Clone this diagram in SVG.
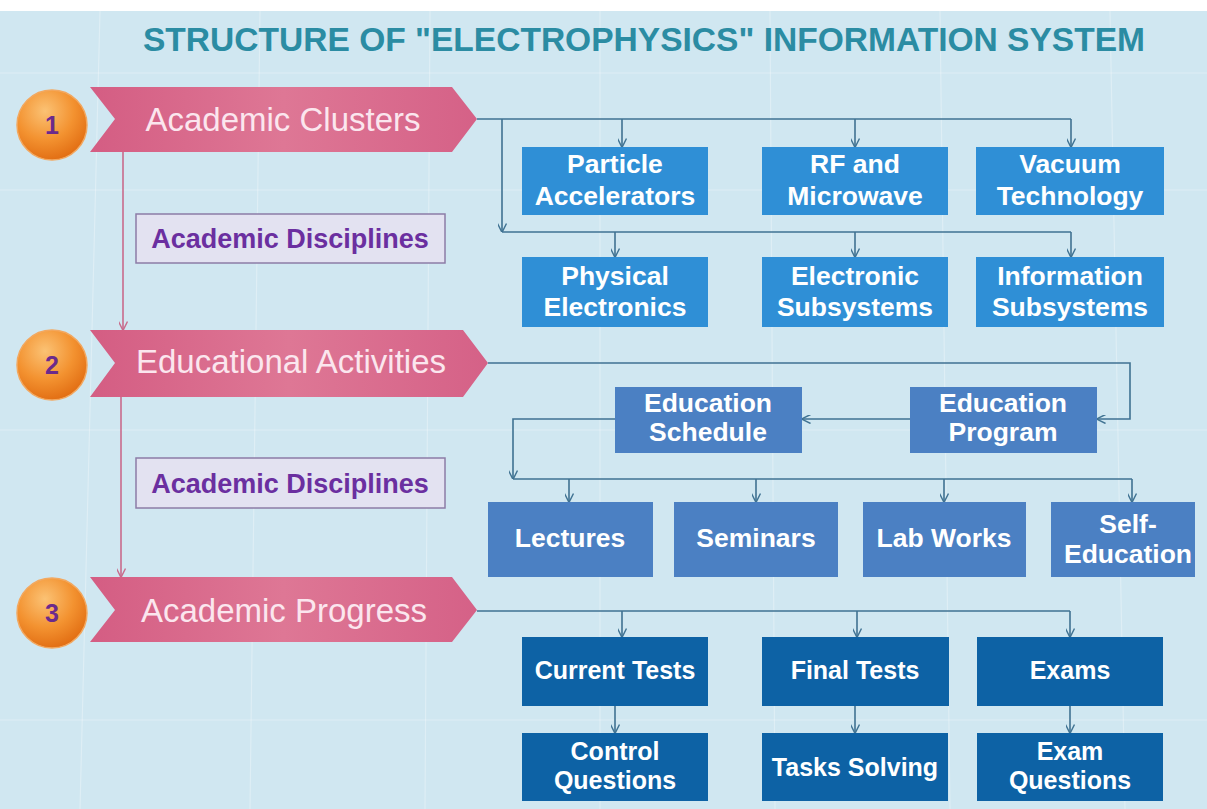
<svg xmlns="http://www.w3.org/2000/svg" width="1207" height="809" viewBox="0 0 1207 809">
<defs>
<linearGradient id="rib" x1="0" y1="0" x2="1" y2="0">
<stop offset="0" stop-color="#d45d83"/>
<stop offset="0.5" stop-color="#de7795"/>
<stop offset="1" stop-color="#d56187"/>
</linearGradient>
<radialGradient id="orb" cx="0.4" cy="0.3" r="0.75">
<stop offset="0" stop-color="#fbc274"/>
<stop offset="0.55" stop-color="#f39230"/>
<stop offset="1" stop-color="#e06a10"/>
</radialGradient>
<marker id="ah" viewBox="0 0 10 10" refX="9.5" refY="5" markerWidth="9" markerHeight="9" markerUnits="userSpaceOnUse" orient="auto">
<path d="M0,0 L10,5 L0,10" fill="none" stroke="#3f7292" stroke-width="1.6"/>
</marker>
<marker id="ahp" viewBox="0 0 10 10" refX="9.5" refY="5" markerWidth="9" markerHeight="9" markerUnits="userSpaceOnUse" orient="auto">
<path d="M0,0 L10,5 L0,10" fill="none" stroke="#c86b8c" stroke-width="1.6"/>
</marker>
<style>
.bg{fill:#d0e7f1}
.grid{stroke:#ffffff;stroke-opacity:0.3;stroke-width:1.2;fill:none}
.title{font-family:"Liberation Sans",Arial,sans-serif;font-weight:bold;font-size:33px;fill:#2b8ca3}
.rib{fill:url(#rib)}
.ribt{font-family:"Liberation Sans",Arial,sans-serif;font-size:33px;fill:#fbe6ee;text-anchor:middle}
.orb{fill:url(#orb);stroke:#f2a860;stroke-width:1.5}
.num{font-family:"Liberation Sans",Arial,sans-serif;font-weight:bold;font-size:25px;fill:#6b2a8c;text-anchor:middle}
.disc{fill:#e3e2f1;stroke:#8c7ca6;stroke-width:1.5}
.disct{font-family:"Liberation Sans",Arial,sans-serif;font-weight:bold;font-size:27px;fill:#6b2fa0;text-anchor:middle}
.b1{fill:#2f8fd6}
.b2{fill:#4b80c3}
.b3{fill:#0d62a5}
.bt{font-family:"Liberation Sans",Arial,sans-serif;font-weight:bold;font-size:26.5px;fill:#ffffff;text-anchor:middle}
.bt3{font-family:"Liberation Sans",Arial,sans-serif;font-weight:bold;font-size:25px;fill:#ffffff;text-anchor:middle}
.con{stroke:#3f7292;stroke-width:1.6;fill:none}
.conp{stroke:#c86b8c;stroke-width:1.6;fill:none}
</style>
</defs>

<rect x="0" y="0" width="1207" height="809" fill="#ffffff"/>
<rect class="bg" x="0" y="11" width="1207" height="798"/>
<g id="grid">
<path class="grid" d="M0,73 H1207 M0,190 H1207 M0,430 H1207 M0,720 H1207"/>
<path class="grid" d="M100,11 L80,809 M260,11 L250,809 M430,11 L425,809 M600,11 L600,809 M770,11 L775,809 M940,11 L950,809 M1110,11 L1125,809"/>
</g>

<text id="title" class="title" x="143" y="51" textLength="1002" lengthAdjust="spacingAndGlyphs">STRUCTURE OF "ELECTROPHYSICS" INFORMATION SYSTEM</text>

<g id="connectors">
<path class="conp" d="M123,152 V330" marker-end="url(#ahp)"/>
<path class="conp" d="M121,397 V577" marker-end="url(#ahp)"/>

<path class="con" d="M477,119 H1071"/>
<path class="con" d="M622,119 V147" marker-end="url(#ah)"/>
<path class="con" d="M855,119 V147" marker-end="url(#ah)"/>
<path class="con" d="M1071,119 V147" marker-end="url(#ah)"/>
<path class="con" d="M502,119 V232" marker-end="url(#ah)"/>
<path class="con" d="M502,232 H1071"/>
<path class="con" d="M615,232 V257" marker-end="url(#ah)"/>
<path class="con" d="M855,232 V257" marker-end="url(#ah)"/>
<path class="con" d="M1071,232 V257" marker-end="url(#ah)"/>

<path class="con" d="M488,363 H1130 V419 H1097" marker-end="url(#ah)"/>
<path class="con" d="M910,419 H802" marker-end="url(#ah)"/>
<path class="con" d="M615,419 H513 V479" marker-end="url(#ah)"/>
<path class="con" d="M513,479 H1132"/>
<path class="con" d="M569,479 V502" marker-end="url(#ah)"/>
<path class="con" d="M756,479 V502" marker-end="url(#ah)"/>
<path class="con" d="M944,479 V502" marker-end="url(#ah)"/>
<path class="con" d="M1132,479 V502" marker-end="url(#ah)"/>

<path class="con" d="M477,611 H1070"/>
<path class="con" d="M622,611 V637" marker-end="url(#ah)"/>
<path class="con" d="M857,611 V637" marker-end="url(#ah)"/>
<path class="con" d="M1070,611 V637" marker-end="url(#ah)"/>
<path class="con" d="M615,706 V733" marker-end="url(#ah)"/>
<path class="con" d="M855,706 V733" marker-end="url(#ah)"/>
<path class="con" d="M1070,706 V733" marker-end="url(#ah)"/>
</g>

<g id="step1">
<path class="rib" d="M90,87 H452 L477,119 L452,152 H90 L115,119 Z"/>
<text class="ribt" x="283" y="131">Academic Clusters</text>
<circle class="orb" cx="52" cy="125" r="35"/>
<text class="num" x="52" y="134">1</text>
</g>
<g id="step2">
<path class="rib" d="M90,330 H463 L488,363 L463,397 H90 L115,363 Z"/>
<text class="ribt" x="291" y="373">Educational Activities</text>
<circle class="orb" cx="52" cy="365" r="35"/>
<text class="num" x="52" y="374">2</text>
</g>
<g id="step3">
<path class="rib" d="M90,577 H452 L477,610 L452,642 H90 L115,610 Z"/>
<text class="ribt" x="284" y="622">Academic Progress</text>
<circle class="orb" cx="52" cy="613" r="35"/>
<text class="num" x="52" y="622">3</text>
</g>

<g id="disc1">
<rect class="disc" x="136" y="214" width="309" height="49"/>
<text class="disct" x="290" y="248">Academic Disciplines</text>
</g>
<g id="disc2">
<rect class="disc" x="136" y="458" width="309" height="50"/>
<text class="disct" x="290" y="493">Academic Disciplines</text>
</g>

<g id="particle"><rect class="b1" x="522" y="147" width="186" height="68"/><text class="bt" x="615" y="173">Particle</text><text class="bt" x="615" y="205">Accelerators</text></g>
<g id="rf"><rect class="b1" x="762" y="147" width="186" height="68"/><text class="bt" x="855" y="173">RF and</text><text class="bt" x="855" y="205">Microwave</text></g>
<g id="vacuum"><rect class="b1" x="976" y="147" width="188" height="68"/><text class="bt" x="1070" y="173">Vacuum</text><text class="bt" x="1070" y="205">Technology</text></g>
<g id="physical"><rect class="b1" x="522" y="257" width="186" height="70"/><text class="bt" x="615" y="285">Physical</text><text class="bt" x="615" y="316">Electronics</text></g>
<g id="electronic"><rect class="b1" x="762" y="257" width="186" height="70"/><text class="bt" x="855" y="285">Electronic</text><text class="bt" x="855" y="316">Subsystems</text></g>
<g id="information"><rect class="b1" x="976" y="257" width="188" height="70"/><text class="bt" x="1070" y="285">Information</text><text class="bt" x="1070" y="316">Subsystems</text></g>

<g id="schedule"><rect class="b2" x="615" y="387" width="187" height="66"/><text class="bt" x="708" y="412">Education</text><text class="bt" x="708" y="441">Schedule</text></g>
<g id="program"><rect class="b2" x="910" y="387" width="187" height="66"/><text class="bt" x="1003" y="412">Education</text><text class="bt" x="1003" y="441">Program</text></g>
<g id="lectures"><rect class="b2" x="488" y="502" width="165" height="75"/><text class="bt" x="570" y="547">Lectures</text></g>
<g id="seminars"><rect class="b2" x="674" y="502" width="164" height="75"/><text class="bt" x="756" y="547">Seminars</text></g>
<g id="labworks"><rect class="b2" x="863" y="502" width="163" height="75"/><text class="bt" x="944" y="547">Lab Works</text></g>
<g id="selfedu"><rect class="b2" x="1051" y="502" width="144" height="75"/><text class="bt" x="1128" y="533">Self-</text><text class="bt" x="1128" y="563">Education</text></g>

<g id="current"><rect class="b3" x="522" y="637" width="186" height="69"/><text class="bt3" x="615" y="679">Current Tests</text></g>
<g id="final"><rect class="b3" x="762" y="637" width="187" height="69"/><text class="bt3" x="855" y="679">Final Tests</text></g>
<g id="exams"><rect class="b3" x="977" y="637" width="186" height="69"/><text class="bt3" x="1070" y="679">Exams</text></g>
<g id="control"><rect class="b3" x="522" y="733" width="186" height="68"/><text class="bt3" x="615" y="760">Control</text><text class="bt3" x="615" y="789">Questions</text></g>
<g id="tasks"><rect class="b3" x="762" y="733" width="186" height="68"/><text class="bt3" x="855" y="776">Tasks Solving</text></g>
<g id="examq"><rect class="b3" x="977" y="733" width="186" height="68"/><text class="bt3" x="1070" y="760">Exam</text><text class="bt3" x="1070" y="789">Questions</text></g>
</svg>
